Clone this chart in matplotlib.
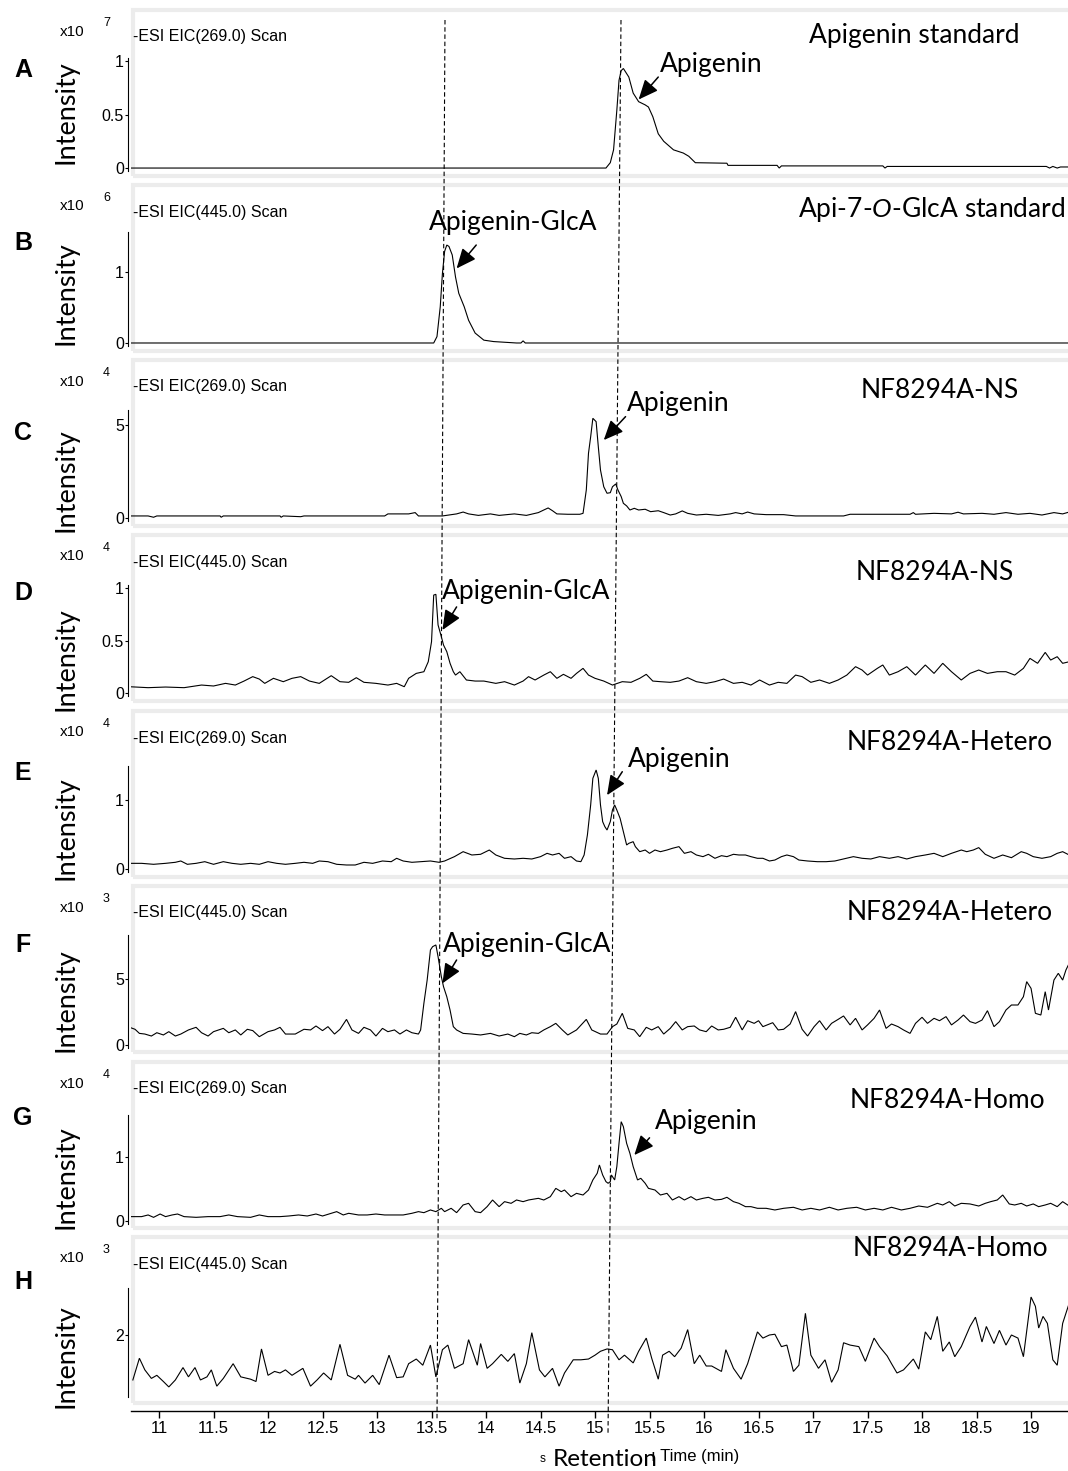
import matplotlib
matplotlib.use("Agg")
import matplotlib.pyplot as plt
from matplotlib.lines import Line2D
from matplotlib.patches import Rectangle

plt.rcParams['font.family'] = ['Liberation Sans', 'DejaVu Sans']
plt.rcParams['mathtext.fontset'] = 'custom'
plt.rcParams['mathtext.rm'] = 'Lato'
plt.rcParams['mathtext.it'] = 'Lato:italic'

# ---- extracted-ion chromatograms: (retention time [min], intensity in panel units) ----
trace_A = [(10.73, 0), (15.10, 0), (15.14, 0.05), (15.17, 0.17), (15.20, 0.54), (15.22, 0.82),
           (15.24, 0.91), (15.26, 0.93), (15.31, 0.85), (15.35, 0.70), (15.40, 0.62), (15.46, 0.59),
           (15.49, 0.57), (15.53, 0.48), (15.58, 0.32), (15.63, 0.25), (15.72, 0.17), (15.81, 0.14),
           (15.86, 0.11), (15.92, 0.05), (16.21, 0.045), (16.22, 0.025), (16.67, 0.025), (16.69, 0.0),
           (16.71, 0.02), (17.64, 0.02), (17.66, 0.0), (17.68, 0.015), (19.14, 0.015), (19.17, 0.0),
           (19.20, 0.015), (19.24, 0.0), (19.27, 0.01), (19.35, 0.01)]

trace_B = [(10.73, 0), (13.50, 0), (13.52, 0.0), (13.55, 0.09), (13.58, 0.51), (13.60, 0.98),
           (13.62, 1.29), (13.64, 1.38), (13.66, 1.36), (13.69, 1.24), (13.72, 0.93), (13.75, 0.70),
           (13.80, 0.51), (13.84, 0.32), (13.90, 0.14), (13.98, 0.04), (14.07, 0.02), (14.28, 0.0),
           (14.32, 0.0), (14.34, 0.03), (14.36, 0.0), (19.35, 0)]

trace_C = [(10.73, 0.11), (10.90, 0.11), (10.95, 0.04), (10.98, 0.11), (11.56, 0.11), (11.57, 0.04),
           (11.59, 0.11), (12.11, 0.11), (12.12, 0.04), (12.14, 0.11), (12.30, 0.07), (12.33, 0.11),
           (13.07, 0.11), (13.10, 0.22), (13.29, 0.22), (13.35, 0.29), (13.38, 0.11), (13.60, 0.11),
           (13.73, 0.22), (13.79, 0.32), (13.84, 0.22), (13.93, 0.14), (14.04, 0.22), (14.12, 0.14),
           (14.26, 0.22), (14.37, 0.14), (14.48, 0.29), (14.53, 0.43), (14.57, 0.54), (14.61, 0.39),
           (14.65, 0.22), (14.75, 0.20), (14.86, 0.20), (14.89, 0.25), (14.92, 1.51), (14.94, 3.48),
           (14.96, 4.37), (14.98, 5.36), (15.01, 5.18), (15.03, 3.84), (15.05, 2.58), (15.08, 1.68),
           (15.11, 1.33), (15.14, 1.36), (15.16, 1.68), (15.19, 1.83), (15.21, 1.51), (15.24, 1.15),
           (15.26, 0.79), (15.29, 0.65), (15.32, 0.43), (15.36, 0.52), (15.40, 0.43), (15.46, 0.47),
           (15.51, 0.34), (15.58, 0.39), (15.63, 0.29), (15.69, 0.16), (15.74, 0.22), (15.80, 0.38),
           (15.85, 0.25), (15.93, 0.16), (16.02, 0.20), (16.13, 0.14), (16.24, 0.22), (16.29, 0.29),
           (16.35, 0.22), (16.40, 0.32), (16.46, 0.22), (16.57, 0.18), (16.73, 0.18), (16.84, 0.11),
           (17.28, 0.11), (17.34, 0.20), (17.89, 0.20), (17.92, 0.29), (17.94, 0.20), (18.11, 0.25),
           (18.27, 0.22), (18.33, 0.31), (18.38, 0.22), (18.55, 0.25), (18.66, 0.20), (18.77, 0.29),
           (18.88, 0.20), (18.99, 0.25), (19.10, 0.16), (19.21, 0.29), (19.29, 0.22), (19.35, 0.32)]

trace_D = [(10.73, 0.060), (10.90, 0.051), (11.06, 0.057), (11.23, 0.051), (11.39, 0.076), (11.50, 0.067),
           (11.61, 0.092), (11.70, 0.076), (11.78, 0.114), (11.86, 0.156), (11.92, 0.133), (11.97, 0.092),
           (12.05, 0.140), (12.14, 0.108), (12.22, 0.140), (12.30, 0.156), (12.38, 0.114), (12.47, 0.092),
           (12.58, 0.165), (12.66, 0.108), (12.74, 0.102), (12.81, 0.146), (12.88, 0.102), (12.99, 0.092),
           (13.10, 0.076), (13.18, 0.092), (13.25, 0.060), (13.29, 0.140), (13.36, 0.187), (13.43, 0.203),
           (13.47, 0.298), (13.50, 0.489), (13.52, 0.933), (13.54, 0.940), (13.56, 0.648), (13.59, 0.537),
           (13.61, 0.457), (13.64, 0.394), (13.67, 0.283), (13.70, 0.203), (13.72, 0.171), (13.76, 0.203),
           (13.82, 0.124), (13.90, 0.114), (13.98, 0.114), (14.09, 0.092), (14.17, 0.108), (14.26, 0.076),
           (14.34, 0.114), (14.39, 0.156), (14.45, 0.124), (14.53, 0.171), (14.59, 0.203), (14.65, 0.140),
           (14.71, 0.178), (14.78, 0.140), (14.83, 0.187), (14.89, 0.235), (14.94, 0.171), (15.00, 0.140),
           (15.08, 0.114), (15.16, 0.076), (15.25, 0.108), (15.33, 0.102), (15.41, 0.140), (15.47, 0.178),
           (15.53, 0.114), (15.60, 0.108), (15.69, 0.102), (15.77, 0.114), (15.85, 0.146), (15.93, 0.108),
           (16.02, 0.092), (16.10, 0.108), (16.18, 0.133), (16.27, 0.092), (16.35, 0.102), (16.43, 0.076),
           (16.51, 0.124), (16.60, 0.076), (16.68, 0.102), (16.76, 0.092), (16.84, 0.171), (16.90, 0.156),
           (16.98, 0.102), (17.06, 0.124), (17.15, 0.092), (17.23, 0.124), (17.31, 0.171), (17.39, 0.251),
           (17.45, 0.219), (17.50, 0.171), (17.59, 0.235), (17.64, 0.267), (17.70, 0.171), (17.78, 0.203),
           (17.86, 0.251), (17.94, 0.171), (18.03, 0.267), (18.11, 0.187), (18.19, 0.283), (18.27, 0.203),
           (18.36, 0.124), (18.44, 0.187), (18.52, 0.219), (18.60, 0.187), (18.69, 0.203), (18.77, 0.203),
           (18.85, 0.171), (18.93, 0.235), (18.99, 0.330), (19.06, 0.283), (19.13, 0.387), (19.18, 0.314),
           (19.24, 0.346), (19.29, 0.283), (19.35, 0.298)]

trace_E = [(10.73, 0.082), (10.84, 0.082), (10.95, 0.068), (11.06, 0.082), (11.15, 0.097), (11.20, 0.116),
           (11.26, 0.068), (11.34, 0.082), (11.42, 0.106), (11.50, 0.068), (11.59, 0.106), (11.67, 0.082),
           (11.75, 0.068), (11.84, 0.082), (11.92, 0.068), (12.00, 0.106), (12.08, 0.082), (12.16, 0.068),
           (12.25, 0.082), (12.33, 0.097), (12.41, 0.082), (12.47, 0.116), (12.55, 0.106), (12.63, 0.068),
           (12.72, 0.058), (12.80, 0.058), (12.88, 0.097), (12.96, 0.082), (13.05, 0.116), (13.13, 0.106),
           (13.18, 0.155), (13.24, 0.116), (13.32, 0.097), (13.40, 0.106), (13.49, 0.116), (13.57, 0.097),
           (13.62, 0.116), (13.71, 0.179), (13.79, 0.251), (13.87, 0.203), (13.95, 0.213), (14.03, 0.275),
           (14.09, 0.203), (14.17, 0.155), (14.26, 0.145), (14.34, 0.155), (14.42, 0.145), (14.50, 0.179),
           (14.56, 0.227), (14.61, 0.203), (14.67, 0.227), (14.72, 0.155), (14.78, 0.179), (14.83, 0.116),
           (14.87, 0.106), (14.90, 0.203), (14.93, 0.493), (14.96, 0.928), (14.98, 1.314), (15.01, 1.435),
           (15.03, 1.314), (15.05, 0.928), (15.07, 0.686), (15.09, 0.614), (15.11, 0.565), (15.14, 0.686),
           (15.16, 0.855), (15.18, 0.928), (15.20, 0.855), (15.23, 0.734), (15.26, 0.541), (15.29, 0.348),
           (15.31, 0.372), (15.35, 0.396), (15.37, 0.324), (15.41, 0.251), (15.46, 0.275), (15.50, 0.227),
           (15.55, 0.275), (15.60, 0.251), (15.66, 0.275), (15.71, 0.300), (15.77, 0.324), (15.82, 0.227),
           (15.88, 0.251), (15.93, 0.203), (15.99, 0.179), (16.04, 0.213), (16.10, 0.155), (16.16, 0.193),
           (16.21, 0.179), (16.27, 0.213), (16.32, 0.203), (16.38, 0.203), (16.43, 0.179), (16.49, 0.155),
           (16.54, 0.155), (16.60, 0.116), (16.65, 0.130), (16.71, 0.179), (16.76, 0.203), (16.82, 0.179),
           (16.87, 0.130), (16.95, 0.116), (17.04, 0.106), (17.12, 0.106), (17.20, 0.116), (17.28, 0.145),
           (17.37, 0.179), (17.45, 0.155), (17.53, 0.145), (17.61, 0.179), (17.70, 0.155), (17.78, 0.179),
           (17.86, 0.145), (17.94, 0.179), (18.03, 0.203), (18.11, 0.227), (18.19, 0.179), (18.27, 0.227),
           (18.36, 0.275), (18.41, 0.251), (18.47, 0.275), (18.52, 0.310), (18.58, 0.213), (18.66, 0.155),
           (18.74, 0.203), (18.82, 0.164), (18.91, 0.251), (18.96, 0.227), (19.02, 0.179), (19.10, 0.155),
           (19.18, 0.179), (19.24, 0.227), (19.29, 0.251), (19.35, 0.203)]

trace_F = [(10.73, 1.34), (10.78, 1.19), (10.82, 0.88), (10.87, 0.83), (10.93, 0.68), (10.98, 0.93),
           (11.04, 0.76), (11.09, 1.01), (11.15, 0.68), (11.20, 0.83), (11.27, 1.14), (11.34, 1.34),
           (11.39, 0.93), (11.45, 0.68), (11.50, 1.01), (11.59, 1.26), (11.64, 0.93), (11.70, 1.14),
           (11.75, 0.76), (11.81, 1.19), (11.86, 1.09), (11.92, 0.63), (12.00, 1.01), (12.06, 1.14),
           (12.11, 1.34), (12.16, 0.83), (12.25, 0.83), (12.33, 1.19), (12.39, 1.14), (12.44, 1.44),
           (12.50, 1.09), (12.55, 1.39), (12.61, 0.83), (12.66, 1.19), (12.72, 1.94), (12.77, 1.14),
           (12.83, 0.88), (12.88, 1.34), (12.94, 1.14), (12.99, 0.68), (13.05, 1.26), (13.10, 1.01),
           (13.16, 1.14), (13.21, 0.83), (13.27, 1.14), (13.32, 0.93), (13.38, 0.83), (13.40, 1.14),
           (13.43, 3.16), (13.46, 4.92), (13.49, 7.20), (13.51, 7.45), (13.54, 7.58), (13.56, 6.69),
           (13.59, 5.18), (13.61, 4.42), (13.64, 3.66), (13.67, 2.65), (13.70, 1.39), (13.73, 1.14),
           (13.79, 0.88), (13.87, 0.83), (13.95, 0.76), (14.04, 0.88), (14.12, 0.68), (14.20, 0.83),
           (14.26, 0.63), (14.31, 0.88), (14.37, 0.76), (14.42, 0.93), (14.48, 0.88), (14.53, 1.14),
           (14.59, 1.39), (14.64, 1.64), (14.70, 1.14), (14.75, 0.76), (14.83, 1.14), (14.92, 1.94),
           (14.97, 1.14), (15.05, 0.83), (15.11, 0.83), (15.16, 1.39), (15.20, 1.59), (15.25, 2.40),
           (15.30, 1.26), (15.36, 1.14), (15.41, 0.63), (15.47, 1.34), (15.52, 1.14), (15.58, 1.39),
           (15.63, 0.83), (15.69, 1.26), (15.74, 1.77), (15.80, 1.14), (15.85, 1.39), (15.91, 1.44),
           (15.96, 1.14), (16.02, 1.01), (16.07, 1.44), (16.13, 1.14), (16.18, 1.19), (16.24, 1.34),
           (16.29, 2.10), (16.35, 1.14), (16.40, 1.84), (16.46, 1.64), (16.50, 1.84), (16.54, 1.39),
           (16.58, 1.52), (16.63, 1.69), (16.68, 1.14), (16.73, 1.19), (16.79, 1.59), (16.84, 2.53),
           (16.90, 1.19), (16.95, 0.68), (17.01, 1.39), (17.06, 1.84), (17.12, 1.14), (17.17, 1.64),
           (17.23, 1.94), (17.28, 2.20), (17.34, 1.52), (17.39, 2.02), (17.45, 1.14), (17.50, 1.52),
           (17.56, 2.02), (17.61, 2.65), (17.67, 1.26), (17.72, 1.59), (17.78, 1.39), (17.83, 1.14),
           (17.89, 0.88), (17.94, 1.64), (18.00, 2.10), (18.05, 1.64), (18.11, 2.02), (18.16, 1.84),
           (18.22, 2.15), (18.27, 1.52), (18.33, 1.89), (18.38, 2.27), (18.44, 1.77), (18.49, 1.64),
           (18.55, 1.89), (18.60, 2.60), (18.66, 1.39), (18.71, 1.77), (18.77, 2.65), (18.82, 3.03),
           (18.88, 3.03), (18.93, 3.66), (18.96, 4.80), (19.00, 4.29), (19.04, 2.40), (19.09, 2.27),
           (19.13, 4.04), (19.16, 2.65), (19.21, 4.92), (19.25, 5.43), (19.29, 4.92), (19.32, 5.68),
           (19.35, 6.19)]

trace_G = [(10.73, 0.068), (10.84, 0.068), (10.90, 0.094), (10.95, 0.057), (11.01, 0.109), (11.06, 0.068),
           (11.12, 0.094), (11.17, 0.109), (11.23, 0.068), (11.34, 0.057), (11.45, 0.068), (11.56, 0.068),
           (11.64, 0.094), (11.72, 0.068), (11.84, 0.057), (11.92, 0.094), (12.00, 0.068), (12.11, 0.068),
           (12.19, 0.078), (12.28, 0.094), (12.36, 0.078), (12.44, 0.109), (12.50, 0.078), (12.58, 0.120),
           (12.63, 0.146), (12.69, 0.094), (12.74, 0.120), (12.83, 0.094), (12.91, 0.094), (12.99, 0.109),
           (13.07, 0.094), (13.16, 0.094), (13.24, 0.094), (13.32, 0.120), (13.38, 0.146), (13.43, 0.130),
           (13.49, 0.172), (13.54, 0.146), (13.59, 0.198), (13.62, 0.146), (13.68, 0.198), (13.73, 0.130),
           (13.79, 0.250), (13.84, 0.276), (13.90, 0.146), (13.95, 0.130), (14.01, 0.224), (14.06, 0.328),
           (14.12, 0.224), (14.17, 0.302), (14.23, 0.276), (14.28, 0.328), (14.34, 0.302), (14.39, 0.328),
           (14.48, 0.354), (14.53, 0.328), (14.59, 0.380), (14.64, 0.510), (14.69, 0.458), (14.72, 0.484),
           (14.78, 0.380), (14.83, 0.432), (14.89, 0.406), (14.94, 0.484), (14.98, 0.641), (15.02, 0.745),
           (15.04, 0.875), (15.07, 0.719), (15.10, 0.615), (15.12, 0.589), (15.14, 0.615), (15.15, 0.719),
           (15.18, 0.641), (15.20, 0.849), (15.22, 1.213), (15.24, 1.552), (15.26, 1.474), (15.29, 1.213),
           (15.32, 1.057), (15.35, 0.849), (15.39, 0.641), (15.42, 0.667), (15.46, 0.589), (15.49, 0.510),
           (15.55, 0.484), (15.60, 0.406), (15.66, 0.432), (15.71, 0.328), (15.77, 0.380), (15.82, 0.328),
           (15.88, 0.380), (15.93, 0.328), (15.99, 0.354), (16.04, 0.370), (16.10, 0.328), (16.16, 0.338),
           (16.21, 0.370), (16.27, 0.302), (16.32, 0.276), (16.38, 0.224), (16.43, 0.224), (16.49, 0.198),
           (16.57, 0.198), (16.65, 0.172), (16.73, 0.198), (16.82, 0.214), (16.90, 0.172), (16.98, 0.198),
           (17.06, 0.172), (17.15, 0.214), (17.23, 0.172), (17.31, 0.198), (17.40, 0.214), (17.48, 0.172),
           (17.56, 0.198), (17.64, 0.172), (17.72, 0.214), (17.81, 0.172), (17.89, 0.198), (17.97, 0.234),
           (18.05, 0.214), (18.14, 0.276), (18.19, 0.250), (18.25, 0.302), (18.30, 0.234), (18.36, 0.276),
           (18.44, 0.266), (18.52, 0.234), (18.58, 0.276), (18.63, 0.302), (18.69, 0.328), (18.74, 0.406),
           (18.80, 0.266), (18.85, 0.250), (18.91, 0.276), (18.96, 0.234), (19.02, 0.266), (19.07, 0.224),
           (19.13, 0.250), (19.18, 0.276), (19.24, 0.224), (19.29, 0.302), (19.35, 0.234)]

trace_H = [(10.76, 1.42), (10.82, 1.70), (10.87, 1.55), (10.93, 1.44), (10.98, 1.48), (11.04, 1.40),
           (11.09, 1.33), (11.15, 1.42), (11.22, 1.58), (11.27, 1.46), (11.33, 1.58), (11.38, 1.42),
           (11.44, 1.46), (11.48, 1.55), (11.53, 1.34), (11.59, 1.44), (11.68, 1.63), (11.75, 1.46),
           (11.84, 1.43), (11.89, 1.40), (11.94, 1.82), (12.00, 1.48), (12.06, 1.53), (12.11, 1.51),
           (12.16, 1.55), (12.22, 1.48), (12.32, 1.57), (12.39, 1.34), (12.45, 1.42), (12.51, 1.51),
           (12.58, 1.42), (12.66, 1.88), (12.73, 1.48), (12.80, 1.43), (12.83, 1.48), (12.89, 1.38),
           (12.96, 1.48), (13.02, 1.36), (13.11, 1.74), (13.18, 1.45), (13.24, 1.46), (13.29, 1.63),
           (13.36, 1.69), (13.42, 1.61), (13.49, 1.87), (13.54, 1.46), (13.60, 1.81), (13.65, 1.87),
           (13.71, 1.57), (13.79, 1.63), (13.84, 1.94), (13.92, 1.61), (13.95, 1.89), (14.01, 1.57),
           (14.06, 1.63), (14.14, 1.75), (14.20, 1.66), (14.26, 1.76), (14.31, 1.38), (14.37, 1.63),
           (14.42, 2.03), (14.49, 1.55), (14.54, 1.46), (14.61, 1.57), (14.67, 1.34), (14.72, 1.51),
           (14.80, 1.68), (14.87, 1.68), (14.94, 1.69), (15.00, 1.74), (15.05, 1.79), (15.11, 1.82),
           (15.16, 1.81), (15.22, 1.68), (15.27, 1.74), (15.35, 1.64), (15.40, 1.79), (15.47, 1.96),
           (15.52, 1.70), (15.58, 1.43), (15.62, 1.74), (15.68, 1.79), (15.73, 1.72), (15.79, 1.83),
           (15.85, 2.07), (15.91, 1.63), (15.96, 1.74), (16.02, 1.60), (16.07, 1.60), (16.16, 1.53),
           (16.20, 1.81), (16.27, 1.57), (16.34, 1.43), (16.40, 1.63), (16.49, 2.04), (16.54, 1.96),
           (16.60, 2.00), (16.65, 2.01), (16.71, 1.85), (16.76, 1.87), (16.82, 1.53), (16.87, 1.61),
           (16.93, 2.28), (16.98, 1.74), (17.05, 1.57), (17.11, 1.68), (17.17, 1.39), (17.23, 1.55),
           (17.28, 1.90), (17.34, 1.87), (17.42, 1.85), (17.48, 1.66), (17.56, 1.96), (17.61, 1.85),
           (17.68, 1.73), (17.72, 1.63), (17.77, 1.51), (17.83, 1.55), (17.92, 1.69), (17.97, 1.56),
           (18.03, 2.04), (18.08, 1.94), (18.14, 2.24), (18.19, 1.79), (18.25, 1.91), (18.30, 1.72),
           (18.36, 1.85), (18.44, 2.11), (18.49, 2.23), (18.55, 1.91), (18.59, 2.11), (18.66, 1.89),
           (18.71, 2.06), (18.77, 1.87), (18.82, 2.00), (18.88, 1.96), (18.93, 1.72), (19.00, 2.49),
           (19.04, 2.37), (19.07, 2.09), (19.11, 2.24), (19.15, 2.15), (19.20, 1.68), (19.24, 1.61),
           (19.29, 2.15), (19.35, 2.41)]

traces = [trace_A, trace_B, trace_C, trace_D, trace_E, trace_F, trace_G, trace_H]

panel_letters = ["A", "B", "C", "D", "E", "F", "G", "H"]
eic_labels = ["-ESI EIC(269.0) Scan", "-ESI EIC(445.0) Scan"] * 4
exponents = ["7", "6", "4", "4", "4", "3", "4", "3"]
sample_names = ["Apigenin standard", r"Api-7-$\mathit{O}$-GlcA standard", "NF8294A-NS", "NF8294A-NS",
                "NF8294A-Hetero", "NF8294A-Hetero", "NF8294A-Homo", "NF8294A-Homo"]
ytick_values = [[0, 0.5, 1], [0, 1], [0, 5], [0, 0.5, 1], [0, 1], [0, 5], [0, 1], [2]]
ytick_labels = [["0", "0.5", "1"], ["0", "1"], ["0", "5"], ["0", "0.5", "1"],
                ["0", "1"], ["0", "5"], ["0", "1"], ["2"]]
x_ticks = [11, 11.5, 12, 12.5, 13, 13.5, 14, 14.5, 15, 15.5, 16, 16.5, 17, 17.5, 18, 18.5, 19]
x_ticklabels = ["11", "11.5", "12", "12.5", "13", "13.5", "14", "14.5", "15", "15.5",
                "16", "16.5", "17", "17.5", "18", "18.5", "19"]

# peak call-outs: panel index, compound, arrow head, arrow tail, label position (data units)
peak_notes = [
    (0, "Apigenin", (15.40, 0.64), (15.58, 0.85), (16.07, 0.97)),
    (1, "Apigenin-GlcA", (13.73, 1.05), (13.91, 1.38), (14.25, 1.70)),
    (2, "Apigenin", (15.08, 4.19), (15.28, 5.45), (15.76, 6.13)),
    (3, "Apigenin-GlcA", (13.60, 0.60), (13.73, 0.82), (14.37, 0.97)),
    (4, "Apigenin", (15.11, 1.07), (15.25, 1.41), (15.77, 1.59)),
    (5, "Apigenin-GlcA", (13.60, 4.67), (13.73, 6.44), (14.38, 7.65)),
    (6, "Apigenin", (15.36, 1.03), (15.50, 1.30), (16.02, 1.55)),
]

# ---- page geometry in pixels ----
W, H = 1068, 1471
fig = plt.figure(figsize=(W / 100, H / 100), dpi=100)


def fx(px):
    return px / W


def fy(py):
    return 1 - py / H


panel_tops = [8, 183, 358, 533, 709, 884, 1060, 1235]
panel_h = 170
ylims = [(-0.093, 1.495), (-0.141, 2.254), (-0.538, 8.602), (-0.095, 1.524),
         (-0.145, 2.319), (-0.682, 12.197), (-0.141, 2.516), (1.097, 3.290)]
spine_bounds = [(-0.03, 1.03), (-0.04, 1.56), (-0.16, 5.8), (-0.03, 1.03),
                (-0.04, 1.5), (-0.23, 8.3), (-0.05, 1.65), (1.2, 2.61)]
intensity_y = [112, 293, 480, 659, 828, 1000, 1177, 1356]
letter_y = [70, 243, 433, 593, 773, 945, 1118, 1282]
name_pos = [(914, 36), (932, 210), (940, 391), (935, 572), (950, 742), (950, 913), (947, 1100), (950, 1249)]
xlim = (10.743, 19.339)

label_font = "Lato"
narrow = ["Liberation Sans Narrow", "Liberation Sans"]
axes_list = []
for i, T in enumerate(panel_tops):
    ax = fig.add_axes([fx(131), fy(T + panel_h), (W - 131) / W, panel_h / H])
    ax.set_facecolor("none")
    t, v = zip(*traces[i])
    ax.plot(t, v, color="black", lw=0.8, solid_joinstyle="miter")
    ax.set_xlim(*xlim)
    ax.set_ylim(*ylims[i])
    for s in ("top", "right", "bottom"):
        ax.spines[s].set_visible(False)
    ax.spines["left"].set_position(("outward", 2.2))
    ax.spines["left"].set_bounds(*spine_bounds[i])
    ax.spines["left"].set_linewidth(0.8)
    ax.set_yticks(ytick_values[i])
    ax.set_yticklabels(ytick_labels[i])
    ax.tick_params(axis="y", direction="out", length=2.5, width=0.8, pad=0.5, labelsize=11.5)
    ax.tick_params(axis="x", bottom=False, labelbottom=False)

    # light grey panel frame
    fig.add_artist(Rectangle((fx(133), fy(T + 168)), (1080 - 133) / W, 166 / H,
                             transform=fig.transFigure, fill=False, ec="#ececec", lw=3, zorder=-1))

    fig.text(fx(23), fy(letter_y[i]), panel_letters[i], fontsize=18, fontweight="bold",
             ha="center", va="center")
    fig.text(fx(60), fy(T + 23.5), "x10", fontsize=11, ha="left", va="center")
    fig.text(fx(103), fy(T + 15), exponents[i], fontsize=9, ha="left", va="center")
    fig.text(fx(133), fy(T + 29), eic_labels[i], fontsize=11.5, ha="left", va="center")
    fig.text(fx(66), fy(intensity_y[i]), "Intensity", rotation=90, fontsize=19.5,
             family=label_font, ha="center", va="center")
    fig.text(fx(name_pos[i][0]), fy(name_pos[i][1]), sample_names[i], fontsize=19,
             family=label_font, ha="center", va="center")
    axes_list.append(ax)

for idx, name, head, tail, pos in peak_notes:
    ax = axes_list[idx]
    ax.annotate("", xy=head, xytext=tail,
                arrowprops=dict(arrowstyle="-|>,head_length=0.8,head_width=0.35", mutation_scale=15,
                                lw=1.1, color="black", shrinkA=0, shrinkB=0))
    ax.text(pos[0], pos[1], name, fontsize=19, family=label_font, ha="center", va="center")

# shared retention-time axis under the last panel
axH = axes_list[-1]
axH.spines["bottom"].set_visible(True)
axH.spines["bottom"].set_position(("outward", 4.3))
axH.spines["bottom"].set_linewidth(1.0)
axH.set_xticks(x_ticks)
axH.set_xticklabels(x_ticklabels)
axH.tick_params(axis="x", bottom=True, labelbottom=True, direction="out", length=5, width=1.0,
                pad=2.5, labelsize=12)
for lab in axH.get_xticklabels():
    lab.set_family(narrow)

fig.text(fx(546), fy(1459), "s", fontsize=8.5, ha="right", va="center")
fig.text(fx(553), fy(1460), "Retention", fontsize=17.5, family=label_font, ha="left", va="center")
fig.text(fx(651), fy(1457), "ı Time (min)", fontsize=12, ha="left", va="center", family=narrow)

# retention-time guide lines across all panels
for (x0, y0, x1, y1) in [(445, 20, 437, 1420), (621, 20, 608, 1435)]:
    fig.add_artist(Line2D([fx(x0), fx(x1)], [fy(y0), fy(y1)], transform=fig.transFigure,
                          color="black", lw=0.8, ls=(0, (4, 2.5)), zorder=5))

fig.savefig("out.png", dpi=100)
